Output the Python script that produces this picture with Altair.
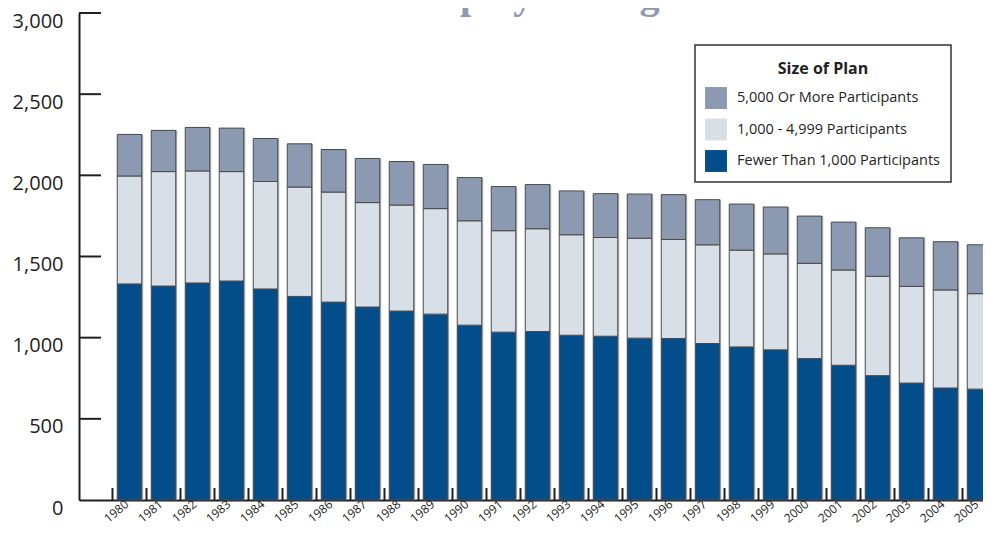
import altair as alt
import pandas as pd

years = list(range(1980, 2006))
cats = ["5,000 Or More Participants", "1,000 - 4,999 Participants", "Fewer Than 1,000 Participants"]
colors = ["#8b9ab1", "#d9dfe7", "#034d8b"]

fewer = [1331, 1318, 1337, 1349, 1300, 1254, 1219, 1189, 1164, 1145, 1077, 1034, 1038,
         1015, 1009, 997, 995, 964, 943, 925, 871, 830, 766, 720, 690, 683]
medium = [665, 705, 690, 674, 662, 674, 678, 643, 653, 650, 643, 625, 633,
          619, 608, 616, 610, 608, 596, 591, 587, 587, 612, 596, 604, 588]
large = [256, 254, 268, 268, 265, 266, 262, 272, 268, 272, 266, 272, 272,
         270, 270, 272, 276, 278, 284, 289, 291, 295, 299, 299, 297, 301]

y_ticks = [0, 500, 1000, 1500, 2000, 2500, 3000]
title_text = "Multiemployer Program"

rows = []
for i, yr in enumerate(years):
    rows.append({"year": yr, "cat": cats[2], "value": fewer[i], "rank": 0})
    rows.append({"year": yr, "cat": cats[1], "value": medium[i], "rank": 1})
    rows.append({"year": yr, "cat": cats[0], "value": large[i], "rank": 2})
df = pd.DataFrame(rows)
df_tot = pd.DataFrame({"year": years, "total": [a + b + c for a, b, c in zip(fewer, medium, large)]})
df_bound = pd.DataFrame({"b": [yr - 0.5 for yr in years]})
df_yt = pd.DataFrame({"v": y_ticks[1:]})

INK = "#231f20"
xs = alt.Scale(domain=[1978.515, 2005.103], nice=False, zero=False, padding=0)
ys = alt.Scale(domain=[0, 3000], nice=False, padding=0)

x_axis = alt.Axis(values=years, format="d", ticks=False, grid=False, domainWidth=2,
                  domainColor=INK, labelAngle=-40, labelAlign="right", labelBaseline="middle",
                  labelPadding=2, labelOffset=-3, labelFont="Open Sans", labelFontSize=12,
                  labelColor=INK, labelFlush=False, labelOverlap=False, labelBound=False,
                  title=None)
y_axis = alt.Axis(values=y_ticks, format=",d", ticks=False, grid=False, domainWidth=2,
                  domainColor=INK, labelFont="Open Sans", labelFontSize=20, labelColor=INK,
                  labelPadding=16, labelOffset=8, labelOverlap=False, title=None)

shadow = alt.Chart(df_tot).mark_bar(width=24.5, xOffset=1.5, color="#b5b5b5").encode(
    x=alt.X("year:Q", scale=xs, axis=x_axis),
    y=alt.Y("total:Q", scale=ys, axis=y_axis),
)

bars = alt.Chart(df).mark_bar(width=24.5, stroke="#4a4a4a", strokeWidth=1).encode(
    x=alt.X("year:Q", scale=xs, axis=x_axis),
    y=alt.Y("value:Q", scale=ys, stack="zero", axis=y_axis),
    color=alt.Color("cat:N", scale=alt.Scale(domain=cats, range=colors),
                    legend=alt.Legend(title="Size of Plan", orient="none", legendX=616, legendY=32,
                                      direction="vertical", padding=10, strokeColor="#333333",
                                      fillColor="white", symbolType="square", symbolSize=480,
                                      symbolStrokeWidth=0, symbolOpacity=1,
                                      labelFont="Open Sans", labelFontSize=14.5, labelColor=INK,
                                      labelOffset=10, labelLimit=400,
                                      titleFont="Open Sans", titleFontSize=16, titleFontWeight="bold",
                                      titleColor=INK, titleAnchor="middle",
                                      titleBaseline="line-top", titleLineHeight=28,
                                      titlePadding=16, rowPadding=9.5)),
    order=alt.Order("rank:Q"),
)

xticks = alt.Chart(df_bound).mark_rule(color=INK, strokeWidth=2).encode(
    x=alt.X("b:Q", scale=xs, axis=x_axis),
    y=alt.value(487), y2=alt.value(475),
)

yticks = alt.Chart(df_yt).mark_rule(color=INK, strokeWidth=2).encode(
    y=alt.Y("v:Q", scale=ys, axis=y_axis),
    x=alt.value(0), x2=alt.value(22),
)

title = alt.Chart(pd.DataFrame({"t": [title_text]})).mark_text(
    font="Liberation Serif", fontWeight="bold", fontSize=40, color="#8b9bb6",
    align="center", baseline="alphabetic",
).encode(text="t:N", x=alt.value(443), y=alt.value(-5))

chart = alt.layer(shadow, bars, xticks, yticks, title).properties(
    width=904, height=487,
    padding={"left": 71, "top": 5, "right": 0, "bottom": 26},
    autosize=alt.AutoSizeParams(type="none"),
).configure_view(stroke=None).configure_legend(strokeWidth=1.5).configure_scale(continuousPadding=0)

chart.save("out.html", embed_options={"renderer": "svg", "actions": False})
